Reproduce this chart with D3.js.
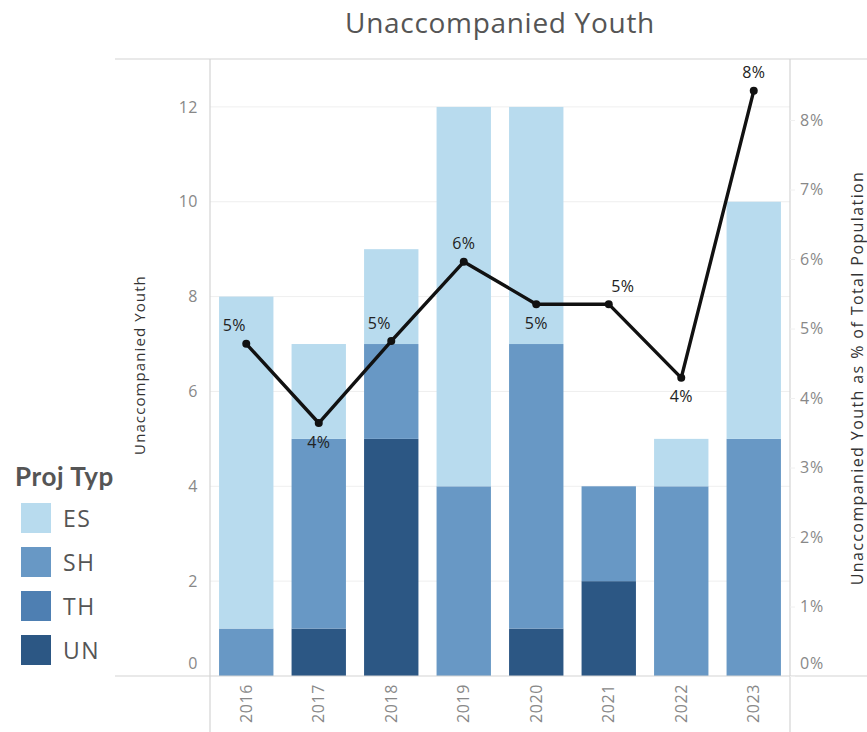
<!DOCTYPE html>
<html><head><meta charset="utf-8">
<script src="https://cdn.jsdelivr.net/npm/d3@7"></script>
<style>body{margin:0;background:#fff}svg{display:block}</style>
</head><body><svg id="c" width="867" height="732"></svg>
<script>
const years = ["2016","2017","2018","2019","2020","2021","2022","2023"];
const projTypes = ["ES","SH","TH","UN"];
const esValues = [7,2,2,8,5,0,1,5];
const shValues = [1,4,2,4,6,2,4,5];
const thValues = [0,0,0,0,0,0,0,0];
const unValues = [0,1,5,0,1,2,0,0];
const pctValues = [0.0478,0.0364,0.0482,0.0596,0.0535,0.0535,0.0429,0.0842];
const pctLabelPos = ["above-left","below","above-left","above","below","above-right","below","above"];
const leftTicks = [0,2,4,6,8,10,12];
const rightTicks = [0,0.01,0.02,0.03,0.04,0.05,0.06,0.07,0.08];
const colors = {ES:"#b8dbee", SH:"#6898c5", TH:"#4e7fb2", UN:"#2c5784"};

const svg = d3.select("#c");
const font = "Open Sans, Lato, sans-serif";
const X0 = 210, X1 = 790, Y0 = 59, Y1 = 676;

const x = d3.scaleBand().domain(years).range([X0, X1]).paddingInner(0.25).paddingOuter(0.125);
const y = d3.scaleLinear().domain([0, 13.01]).range([Y1, Y0]);
const y2 = d3.scaleLinear().domain([0, 0.08]).range([Y1, 120]);

// gridlines
svg.append("g").selectAll("line").data(leftTicks.filter(d=>d>0)).join("line")
  .attr("x1", X0).attr("x2", X1).attr("y1", d=>y(d)).attr("y2", d=>y(d))
  .attr("stroke", "#efefef").attr("stroke-width", 1);

// stacked bars
const rows = years.map((yr,i)=>({year:yr, ES:esValues[i], SH:shValues[i], TH:thValues[i], UN:unValues[i]}));
const stack = d3.stack().keys(["UN","TH","SH","ES"]);
const series = stack(rows);
svg.append("g").selectAll("g").data(series).join("g")
  .attr("fill", d=>colors[d.key])
  .selectAll("rect").data(d=>d.filter(v=>v[1]>v[0])).join("rect")
  .attr("x", d=>x(d.data.year)).attr("width", x.bandwidth())
  .attr("y", d=>y(d[1])).attr("height", d=>y(d[0])-y(d[1]));

// frame lines
const fr = svg.append("g").attr("stroke","#d4d4d4").attr("stroke-width",1.2);
fr.append("line").attr("x1",115).attr("x2",867).attr("y1",Y0).attr("y2",Y0);
fr.append("line").attr("x1",115).attr("x2",867).attr("y1",Y1).attr("y2",Y1);
fr.append("line").attr("x1",X0).attr("x2",X0).attr("y1",Y0).attr("y2",732);
fr.append("line").attr("x1",X1).attr("x2",X1).attr("y1",Y0).attr("y2",732);

// left axis
const ly = svg.append("g").attr("transform",`translate(${X0},0)`)
  .call(d3.axisLeft(y).tickValues(leftTicks).tickSize(0).tickPadding(12));
ly.select(".domain").remove();
ly.selectAll("text").attr("font-family",font).attr("font-size",16).attr("fill","#888")
  .attr("letter-spacing",0.5)
  .attr("dy", d=> d===0 ? "-0.45em" : "0.32em");

// right axis
const ry = svg.append("g").attr("transform",`translate(${X1},0)`)
  .call(d3.axisRight(y2).tickValues(rightTicks).tickFormat(d3.format(".0%")).tickSize(5).tickPadding(5));
ry.select(".domain").remove();
ry.selectAll("line").attr("stroke","#f0f0f0");
ry.selectAll("text").attr("font-family",font).attr("font-size",16).attr("fill","#888")
  .attr("letter-spacing",0.8)
  .attr("dy", d=> d===0 ? "-0.45em" : "0.32em");

// x axis
const xa = svg.append("g").attr("transform",`translate(0,${Y1})`)
  .call(d3.axisBottom(x).tickSize(0).tickPadding(0));
xa.select(".domain").remove();
xa.selectAll("text").attr("font-family",font).attr("font-size",16).attr("fill","#888")
  .attr("letter-spacing",0.6)
  .attr("transform","rotate(-90)").attr("text-anchor","end")
  .attr("x",-8).attr("y",0).attr("dy","0.35em");

// line
const lx = (d,i)=> x(years[i]) + x.bandwidth()/2;
svg.append("path").datum(pctValues)
  .attr("fill","none").attr("stroke","#111").attr("stroke-width",3.4).attr("stroke-linejoin","round")
  .attr("d", d3.line().x(lx).y(d=>y2(d)));
svg.append("g").selectAll("circle").data(pctValues).join("circle")
  .attr("cx", lx).attr("cy", d=>y2(d)).attr("r",4).attr("fill","#111");
const hOff = {"above-left":-12, "above-right":14, "above":0, "below":0};
svg.append("g").selectAll("text").data(pctValues).join("text")
  .attr("x", (d,i)=> lx(d,i) + hOff[pctLabelPos[i]])
  .attr("y", (d,i)=> pctLabelPos[i]==="below" ? y2(d)+19 : y2(d)-18)
  .attr("dy","0.35em")
  .attr("text-anchor","middle").attr("font-family",font).attr("font-size",16).attr("fill","#222")
  .attr("letter-spacing",0.4)
  .text(d=>d3.format(".0%")(d));

// axis titles
svg.append("text").attr("transform","translate(145,365) rotate(-90)")
  .attr("text-anchor","middle").attr("font-family",font).attr("font-size",15).attr("fill","#333")
  .attr("letter-spacing",1.1)
  .text("Unaccompanied Youth");
svg.append("text").attr("transform","translate(863,378) rotate(-90)")
  .attr("text-anchor","middle").attr("font-family",font).attr("font-size",16).attr("fill","#333")
  .attr("letter-spacing",1.4)
  .text("Unaccompanied Youth as % of Total Population");

// title
svg.append("text").attr("x",500).attr("y",33).attr("text-anchor","middle")
  .attr("font-family",font).attr("font-size",28).attr("fill","#555")
  .attr("letter-spacing",0.7).text("Unaccompanied Youth");

// legend
const lg = svg.append("g");
lg.append("text").attr("x",15).attr("y",486).attr("font-family","Lato, sans-serif").attr("font-weight","bold")
  .attr("font-size",26).attr("fill","#555").attr("letter-spacing",0.6).text("Proj Typ");
const li = lg.selectAll("g.it").data(projTypes).join("g").attr("class","it")
  .attr("transform",(d,i)=>`translate(21,${503+i*44})`);
li.append("rect").attr("width",30).attr("height",30).attr("fill",d=>colors[d]);
li.append("text").attr("x",42).attr("y",16).attr("dy","0.35em").attr("font-family",font)
  .attr("font-size",23).attr("fill","#555").attr("letter-spacing",1.5).text(d=>d);
</script></body></html>
